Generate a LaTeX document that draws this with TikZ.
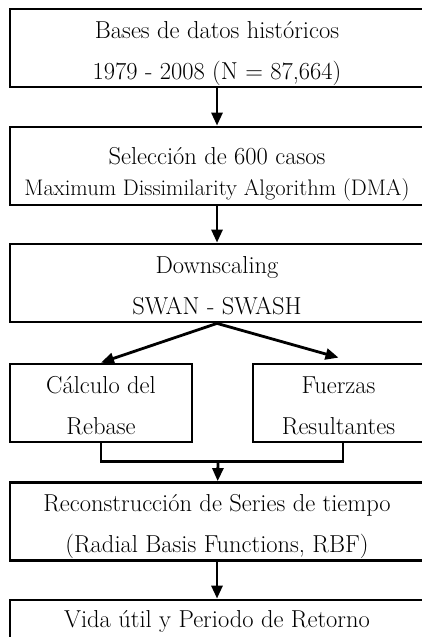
\documentclass[tikz,border=0pt]{standalone}
\usetikzlibrary{arrows.meta,calc}
\tikzset{>={Triangle[length=13pt,width=11pt]}}

\begin{document}
\begin{tikzpicture}[x=1pt,y=-1pt,
  box/.style={draw,line width=2.8pt,align=center,inner sep=0pt,
    minimum height=78pt,font=\fontsize{24.5}{41}\selectfont,
    execute at begin node={\rule{0pt}{#1}},
    execute at end node={\rule[-8pt]{0pt}{0pt}}},
  box/.default=70pt,
  wide/.style={box=#1,minimum width=414pt},
  wide/.default=70pt,
  small/.style={box,minimum width=182pt},
  flow/.style={line width=2.8pt,->},
  link/.style={line width=2.8pt}]
\useasboundingbox (0,0) rectangle (422,637);
\clip (0,0) rectangle (422,637);
\node[wide] (datos) at (217,48) {Bases de datos históricos\\1979 - 2008 (N = 87,664)};
\node[wide=66pt] (seleccion) at (217,166) {Selección de 600 casos\\[-10pt]
  {\fontsize{22.5}{30}\selectfont Maximum Dissimilarity Algorithm (DMA)}};
\node[wide] (down) at (217,283) {Downscaling\\SWAN - SWASH};
\node[small] (rebase) at (101,403) {Cálculo del\\Rebase};
\node[box,minimum width=171pt] (fuerzas) at (338.5,403) {Fuerzas\\Resultantes};
\node[wide] (series) at (217,521.5) {Reconstrucción de Series de tiempo\\(Radial Basis Functions, RBF)};
\node[wide=27pt] (vida) at (217,639) {Vida útil y Periodo de Retorno\rule[-51pt]{0pt}{0pt}};
\coordinate (join) at (218,461);
% flechas
\draw[flow] (datos) -- (seleccion);
\draw[flow] (seleccion) -- (down);
\draw[flow] (down.south) -- (rebase.north);
\draw[flow] (down.south) -- ($(fuerzas.north)+(0,-5)$);
\draw[link] (rebase.south) |- ($(fuerzas.south)+(4.5,18)$) -- ($(fuerzas.south)+(4.5,0)$);
\draw[flow] (join) -- (series);
\draw[flow] (series) -- (vida);
\end{tikzpicture}
\end{document}
